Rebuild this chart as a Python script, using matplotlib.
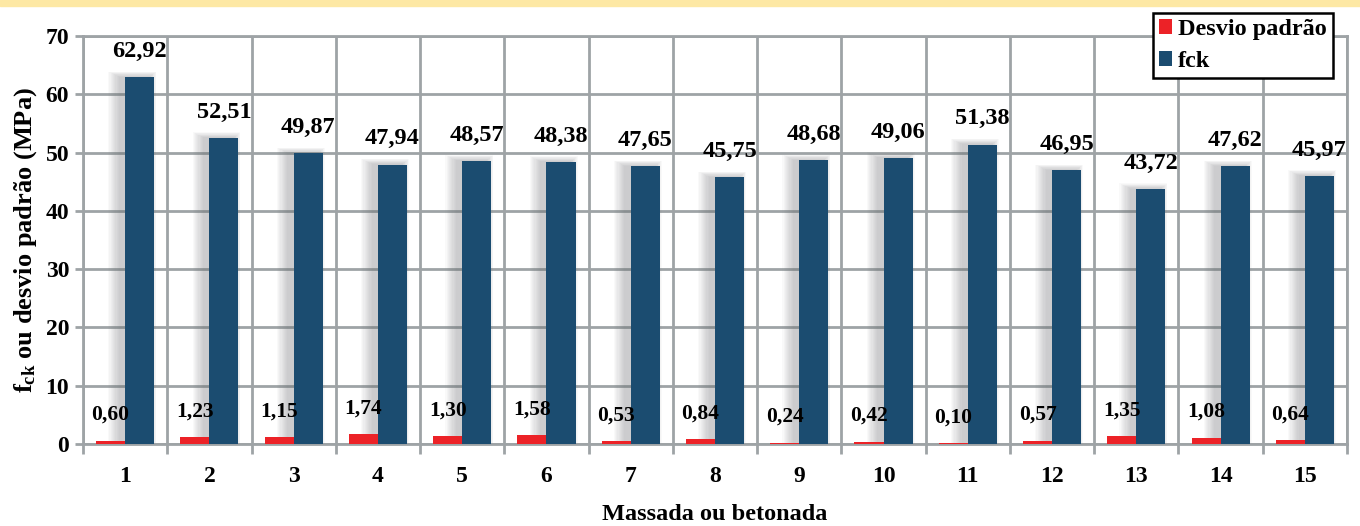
import numpy as np
import matplotlib.pyplot as plt
from matplotlib.patches import Rectangle

massada = list(range(1, 16))
desvio = [0.60, 1.23, 1.15, 1.74, 1.30, 1.58, 0.53, 0.84, 0.24, 0.42,
          0.10, 0.57, 1.35, 1.08, 0.64]
fck = [62.92, 52.51, 49.87, 47.94, 48.57, 48.38, 47.65, 45.75, 48.68,
       49.06, 51.38, 46.95, 43.72, 47.62, 45.97]

plt.rcParams['font.family'] = ['Liberation Serif', 'DejaVu Serif']
plt.rcParams['font.weight'] = 'bold'
plt.rcParams['axes.labelweight'] = 'bold'
plt.rcParams['mathtext.fontset'] = 'custom'
plt.rcParams['mathtext.rm'] = 'Liberation Serif:bold'
plt.rcParams['mathtext.it'] = 'Liberation Serif:bold'
plt.rcParams['mathtext.bf'] = 'Liberation Serif:bold'

red = '#EC2227'
blue = '#1B4C70'
grid_c = '#9EA3A6'

fig = plt.figure(figsize=(13.6, 5.26), dpi=100)
ax = fig.add_axes([83 / 1360, 1 - 444 / 526, 1264 / 1360, 408 / 526])

# yellow strip at top
fig.patches.append(Rectangle((0, 1 - 6 / 526), 1, 6 / 526,
                             transform=fig.transFigure,
                             color='#FDE8A4', zorder=0))

x = np.array(massada)
w = 0.345

# soft blurred shadow behind the fck bars (shifted to the left)
n = 10
for k in range(n):
    grow = 0.014 * (n - k)
    ax.bar(x - 0.06 - grow, np.array(fck) + grow * 7, width=w + 1.6 * grow,
           align='edge', color='#6E7275', alpha=0.04, zorder=2,
           linewidth=0)

ax.bar(x - w, desvio, width=w, align='edge', color=red, zorder=3,
       label='Desvio padrão')
ax.bar(x, fck, width=w, align='edge', color=blue, zorder=3, label='fck')

for xi, v in zip(x, fck):
    ax.annotate(f'{v:.2f}'.replace('.', ','), (xi + w / 2, v),
                xytext=(0, 11), textcoords='offset points',
                ha='center', va='bottom', fontsize=17.5, fontweight='bold',
                zorder=5)
for xi, v in zip(x, desvio):
    ax.annotate(f'{v:.2f}'.replace('.', ','), (xi - w / 2, v + 4.4),
                ha='center', va='center', fontsize=15.5, fontweight='bold',
                zorder=5)

ax.set_xlim(0.5, 15.5)
ax.set_ylim(0, 70)
ax.set_yticks(range(0, 71, 10))
ax.set_xticks(x)
ax.set_xticks(np.arange(0.5, 16, 1), minor=True)
ax.tick_params(axis='x', which='major', length=0, pad=16, labelsize=17)
ax.tick_params(axis='x', which='minor', length=7, width=2, color=grid_c,
               direction='out')
ax.tick_params(axis='y', length=6, width=2, color=grid_c, pad=4,
               labelsize=17)

ax.grid(True, axis='y', color=grid_c, linewidth=2, zorder=1)
ax.grid(True, axis='x', which='minor', color=grid_c, linewidth=2, zorder=1)
ax.set_axisbelow(True)
for s in ax.spines.values():
    s.set_color(grid_c)
    s.set_linewidth(2)

ax.set_xlabel('Massada ou betonada', fontsize=17.5, labelpad=12)
ax.set_ylabel(r'$\mathrm{f}_{\mathrm{ck}}$ ou desvio padrão (MPa)',
              fontsize=19, labelpad=5)

leg = fig.legend(loc='upper right', bbox_to_anchor=(1333 / 1360, 1 - 13 / 526),
                 fontsize=17.5, handlelength=0.55, handleheight=0.55,
                 handletextpad=0.25, borderpad=0.25, labelspacing=0.45,
                 borderaxespad=0, fancybox=False, framealpha=1,
                 edgecolor='black')
leg.get_frame().set_linewidth(1.8)

fig.savefig('out.png', dpi=100)
